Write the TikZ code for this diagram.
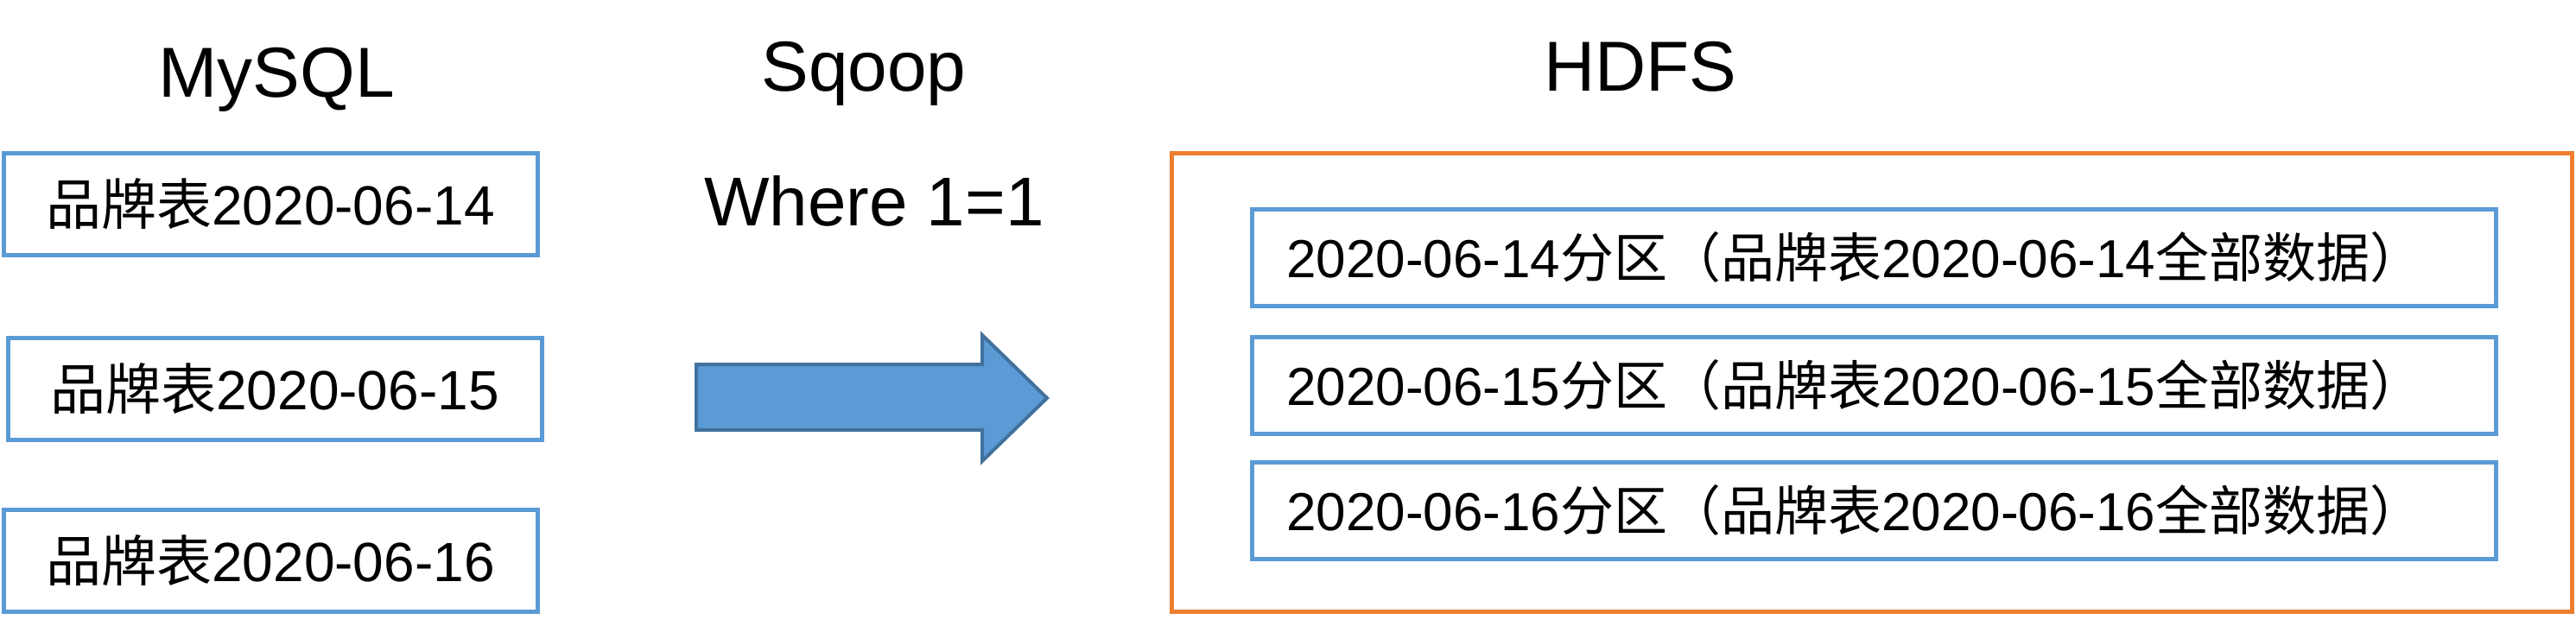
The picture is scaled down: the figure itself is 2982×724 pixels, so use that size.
\documentclass[tikz,border=0pt]{standalone}
\usepackage{fontspec}
\setmainfont{Liberation Sans}
\newfontfamily\cjk{Noto Sans CJK SC}
\definecolor{boxblue}{HTML}{5B9BD5}
\definecolor{boxorange}{HTML}{ED7D31}
\definecolor{arrowedge}{HTML}{41719C}
\begin{document}
\begin{tikzpicture}[x=1pt,y=-1pt,
  title/.style={font=\fontsize{82}{98}\selectfont, anchor=base, inner sep=0pt},
  srcbox/.style={draw=boxblue, line width=5pt, minimum width=618pt, minimum height=118pt, inner sep=0pt, font=\fontsize{64}{76}\selectfont},
  partbox/.style={draw=boxblue, line width=5pt, minimum width=1440pt, minimum height=112pt, inner sep=0pt},
  parttext/.style={font=\fontsize{62}{74}\selectfont, anchor=west, inner sep=0pt},
  hdfsbox/.style={draw=boxorange, line width=5pt}]
\useasboundingbox (0,0) rectangle (2982,724);
% titles
\node[title] (mysql) at (320,112) {MySQL};
\node[title] (sqoop) at (1000,105) {Sqoop};
\node[title] (hdfs) at (1899,105) {HDFS};
\node[title, font=\fontsize{80}{96}\selectfont] (where) at (1012,261) {Where 1=1};
% source tables
\node[srcbox] (s1) at (313,236) {{\cjk 品牌表}2020-06-14};
\node[srcbox] (s2) at (318,450) {{\cjk 品牌表}2020-06-15};
\node[srcbox] (s3) at (313,649) {{\cjk 品牌表}2020-06-16};
% block arrow
\draw[line width=4pt, draw=arrowedge, fill=boxblue, line join=miter]
  (806,422) -- (1137,422) -- (1137,388) -- (1212,461) -- (1137,534) -- (1137,498) -- (806,498) -- cycle;
% HDFS container
\draw[hdfsbox] (1356,177) rectangle (2977,708);
% partitions
\node[partbox] (p1) at (2169,298) {};
\node[partbox] (p2) at (2169,446) {};
\node[partbox] (p3) at (2169,591) {};
\node[parttext] (t1) at (1489,298) {2020-06-14{\cjk 分区（品牌表}2020-06-14{\cjk 全部数据）}};
\node[parttext] (t2) at (1489,446) {2020-06-15{\cjk 分区（品牌表}2020-06-15{\cjk 全部数据）}};
\node[parttext] (t3) at (1489,591) {2020-06-16{\cjk 分区（品牌表}2020-06-16{\cjk 全部数据）}};
\end{tikzpicture}
\end{document}
